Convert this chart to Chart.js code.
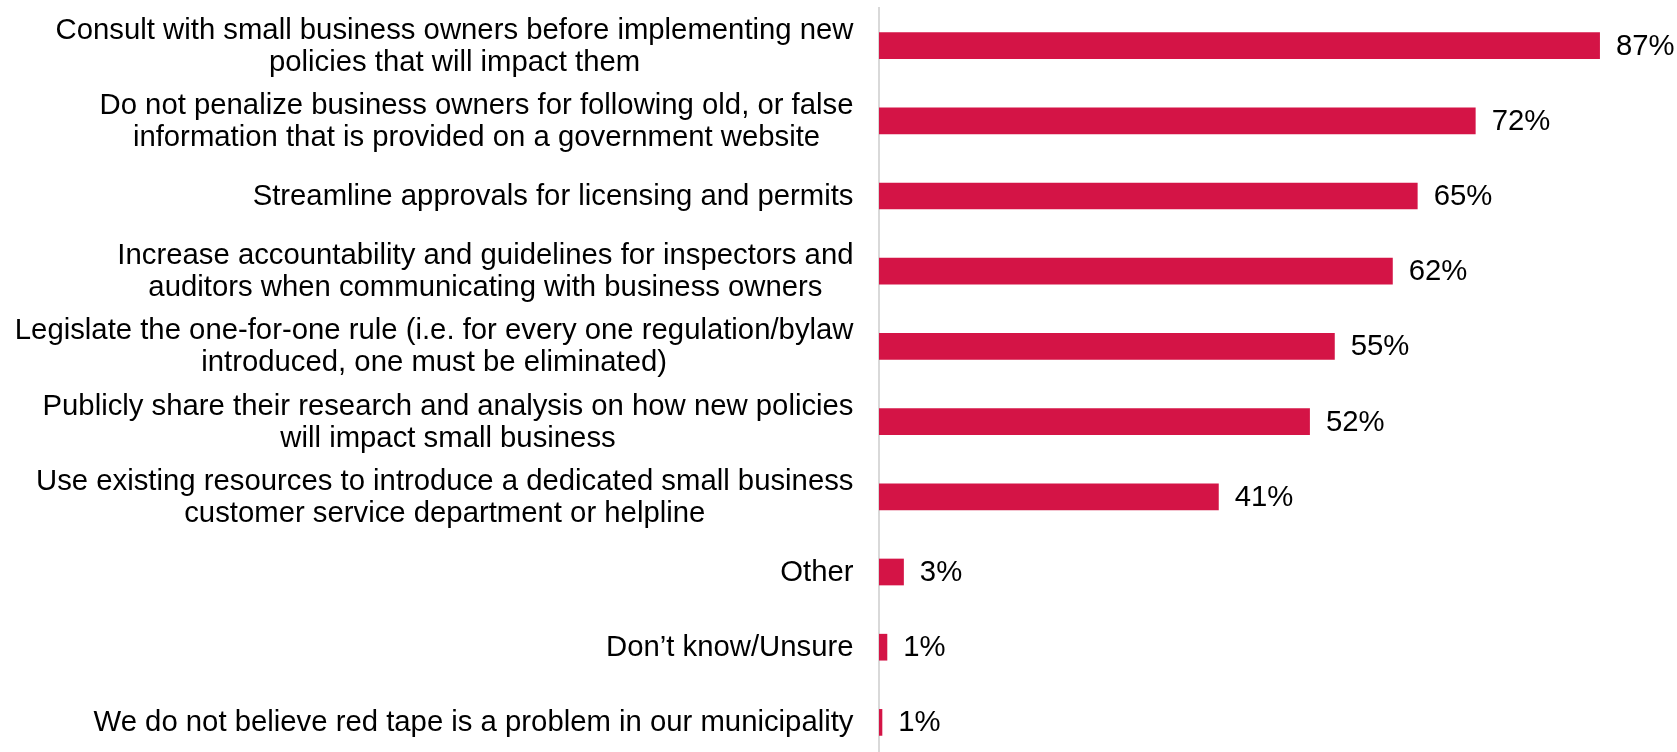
<!DOCTYPE html>
<html>
<head>
<meta charset="utf-8">
<script src="https://cdn.jsdelivr.net/npm/chart.js@4.4.0/dist/chart.umd.min.js"></script>
<style>
    html, body { margin: 0; padding: 0; overflow: hidden; background: #fff; }
    #wrap { position: relative; width: 1677px; height: 760px; }
</style>
</head>
<body>
<div id="wrap"><canvas id="chart"></canvas></div>
<script>
// 类别（多行标签）
const categories = [
    ['Consult with small business owners before implementing new', 'policies that will impact them'],
    ['Do not penalize business owners for following old, or false', 'information that is provided on a government website'],
    ['Streamline approvals for licensing and permits'],
    ['Increase accountability and guidelines for inspectors and', 'auditors when communicating with business owners'],
    ['Legislate the one-for-one rule (i.e. for every one regulation/bylaw', 'introduced, one must be eliminated)'],
    ['Publicly share their research and analysis on how new policies', 'will impact small business'],
    ['Use existing resources to introduce a dedicated small business', 'customer service department or helpline'],
    ['Other'],
    ['Don\u2019t know/Unsure'],
    ['We do not believe red tape is a problem in our municipality']
];
const values = [87, 72, 65, 62, 55, 52, 41, 3, 1, 0.4];
const valueLabels = ['87%', '72%', '65%', '62%', '55%', '52%', '41%', '3%', '1%', '1%'];

const FONT = '29.3px "Liberation Sans", Arial, sans-serif';
const LINE_H = 32;
const BAR_COLOR = '#D41446';

// 自绘标签：每个标签块居中、整体右对齐
const labelPlugin = {
    id: 'customLabels',
    afterDatasetsDraw(chart) {
        const ctx = chart.ctx;
        const yScale = chart.scales.y;
        const meta = chart.getDatasetMeta(0);
        const labelRight = yScale.right - 25.5;
        ctx.save();
        ctx.font = FONT;
        ctx.fillStyle = '#000';
        ctx.textBaseline = 'middle';
        ctx.textAlign = 'center';
        categories.forEach((lines, i) => {
            const yc = yScale.getPixelForTick(i) + 1;
            const w = Math.max(...lines.map(l => ctx.measureText(l).width));
            const cx = labelRight - w / 2;
            const y0 = yc - (lines.length - 1) * LINE_H / 2;
            lines.forEach((l, j) => ctx.fillText(l, cx, y0 + j * LINE_H));
        });
        // 数值标签
        ctx.textAlign = 'left';
        meta.data.forEach((bar, i) => {
            ctx.fillText(valueLabels[i], bar.x + 16, bar.y + 1);
        });
        ctx.restore();
    }
};

new Chart(document.getElementById('chart').getContext('2d'), {
    type: 'bar',
    data: {
        labels: categories,
        datasets: [{
            data: values,
            backgroundColor: BAR_COLOR,
            borderWidth: 0,
            barPercentage: 0.355,
            categoryPercentage: 1
        }]
    },
    options: {
        indexAxis: 'y',
        responsive: true,
        maintainAspectRatio: false,
        animation: false,
        layout: { padding: { top: 8, right: 0, bottom: 0, left: 0 } },
        plugins: {
            legend: { display: false },
            tooltip: { enabled: false }
        },
        scales: {
            x: { display: false, min: 0, max: 96.3 },
            y: {
                grid: { display: false },
                border: { display: true, color: '#D9D9D9', width: 2 },
                ticks: { display: false },
                afterFit(scale) { scale.width = 879; }
            }
        }
    },
    plugins: [labelPlugin]
});
</script>
</body>
</html>
